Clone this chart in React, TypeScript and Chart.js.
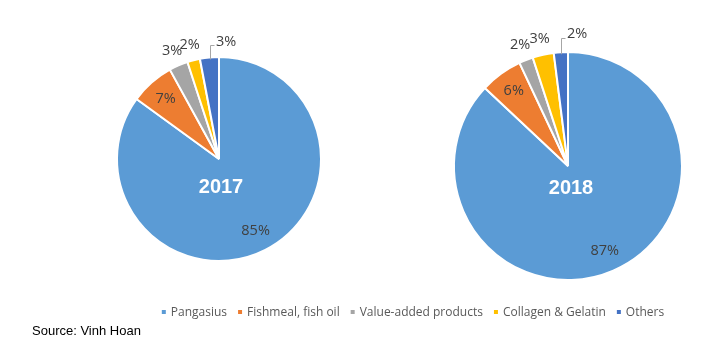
import React, { useEffect, useRef } from "react";
import { Chart, registerables } from "chart.js";

Chart.register(...registerables);

const categories = ["Pangasius", "Fishmeal, fish oil", "Value-added products", "Collagen & Gelatin", "Others"];
const colors = ["#5B9BD5", "#ED7D31", "#A5A5A5", "#FFC000", "#4472C4"];
const values2017 = [85, 7, 3, 2, 3];
const values2018 = [87, 6, 2, 3, 2];
const years = ["2017", "2018"];
const sourceText = "Source: Vinh Hoan";

const W = 710;
const H = 353;

type PieLayout = {
  cx: number;
  cy: number;
  r: number;
  inside: number;
  outside: number;
  yearDx: number;
  yearDy: number;
  leaderTop: number;
  textTop: number;
};

const layouts: PieLayout[] = [
  { cx: 219, cy: 159, r: 102, inside: 0.79, outside: 16, yearDx: 2, yearDy: 28, leaderTop: 12, textTop: 15 },
  { cx: 568, cy: 166, r: 114, inside: 0.81, outside: 16, yearDx: 3, yearDy: 22, leaderTop: 14, textTop: 18 },
];

function labelPlugin(values: number[], year: string, lay: PieLayout, drawExtras: boolean) {
  return {
    id: "labels" + year,
    afterDatasetsDraw(chart: any) {
      const ctx = chart.ctx as CanvasRenderingContext2D;
      const meta = chart.getDatasetMeta(0);
      ctx.save();
      meta.data.forEach((arc: any, i: number) => {
        const p = arc.getProps(["x", "y", "startAngle", "endAngle", "outerRadius"], true);
        const mid = (p.startAngle + p.endAngle) / 2;
        const txt = values[i] + "%";
        ctx.font = "14.5px 'Open Sans', sans-serif";
        ctx.fillStyle = "#404040";
        ctx.textBaseline = "middle";
        if (i < 2) {
          const rr = p.outerRadius * lay.inside;
          ctx.textAlign = "center";
          ctx.fillText(txt, p.x + Math.cos(mid) * rr, p.y + Math.sin(mid) * rr);
        } else if (i < values.length - 1) {
          const rr = p.outerRadius + lay.outside;
          ctx.textAlign = "center";
          ctx.fillText(txt, p.x + Math.cos(mid) * rr, p.y + Math.sin(mid) * rr);
        } else {
          const sx = p.x + Math.cos(mid) * (p.outerRadius - 2);
          const sy = p.y + Math.sin(mid) * (p.outerRadius - 2);
          const top = p.y - p.outerRadius;
          const ly = top - lay.leaderTop;
          ctx.strokeStyle = "#A6A6A6";
          ctx.lineWidth = 1;
          ctx.beginPath();
          ctx.moveTo(Math.round(sx) + 0.5, sy);
          ctx.lineTo(Math.round(sx) + 0.5, Math.round(ly) + 0.5);
          ctx.lineTo(Math.round(sx) + 4.5, Math.round(ly) + 0.5);
          ctx.stroke();
          ctx.textAlign = "left";
          ctx.fillText(txt, Math.round(sx) + 6, top - lay.textTop);
        }
      });
      // year label
      ctx.font = "bold 20px 'Liberation Sans', Arial, sans-serif";
      ctx.fillStyle = "#FFFFFF";
      ctx.textAlign = "center";
      ctx.textBaseline = "middle";
      ctx.fillText(year, lay.cx + lay.yearDx, lay.cy + lay.yearDy);

      if (drawExtras) {
        // legend
        ctx.font = "12px 'Open Sans', sans-serif";
        ctx.textBaseline = "middle";
        ctx.textAlign = "left";
        const box = 4;
        const boxGap = 5;
        const itemGap = 11;
        const widths = categories.map((c) => ctx.measureText(c).width);
        const total = widths.reduce((a, w) => a + box + boxGap + w, 0) + itemGap * (categories.length - 1);
        let x = 413 - total / 2;
        const y = 312;
        categories.forEach((c, i) => {
          ctx.fillStyle = colors[i];
          ctx.fillRect(x, y - box / 2, box, box);
          x += box + boxGap;
          ctx.fillStyle = "#595959";
          ctx.fillText(c, x, y + 0.5);
          x += widths[i] + itemGap;
        });
        // source
        ctx.font = "13px 'Liberation Sans', Arial, sans-serif";
        ctx.fillStyle = "#000000";
        ctx.fillText(sourceText, 32, 331);
      }
      ctx.restore();
    },
  };
}

function makeChart(canvas: HTMLCanvasElement, values: number[], year: string, lay: PieLayout, drawExtras: boolean) {
  return new Chart(canvas, {
    type: "pie",
    data: {
      labels: categories,
      datasets: [
        {
          data: values,
          backgroundColor: colors,
          borderColor: "#FFFFFF",
          borderWidth: 2,
          radius: lay.r,
        } as any,
      ],
    },
    options: {
      responsive: false,
      animation: false,
      devicePixelRatio: 1,
      layout: {
        padding: {
          left: Math.max(0, 2 * lay.cx - W),
          right: Math.max(0, W - 2 * lay.cx),
          top: Math.max(0, 2 * lay.cy - H),
          bottom: Math.max(0, H - 2 * lay.cy),
        },
      },
      plugins: {
        legend: { display: false },
        tooltip: { enabled: false },
        title: { display: false },
      },
      events: [],
    },
    plugins: [labelPlugin(values, year, lay, drawExtras)],
  });
}

export default function App() {
  const ref1 = useRef<HTMLCanvasElement>(null);
  const ref2 = useRef<HTMLCanvasElement>(null);

  useEffect(() => {
    const c1 = makeChart(ref1.current!, values2017, years[0], layouts[0], true);
    const c2 = makeChart(ref2.current!, values2018, years[1], layouts[1], false);
    return () => {
      c1.destroy();
      c2.destroy();
    };
  }, []);

  const canvasStyle: React.CSSProperties = { position: "absolute", left: 0, top: 0, width: W, height: H };
  return (
    <div style={{ position: "fixed", left: 0, top: 0, width: W, height: H, background: "#FFFFFF" }}>
      <canvas ref={ref1} width={W} height={H} style={canvasStyle} />
      <canvas ref={ref2} width={W} height={H} style={canvasStyle} />
    </div>
  );
}
